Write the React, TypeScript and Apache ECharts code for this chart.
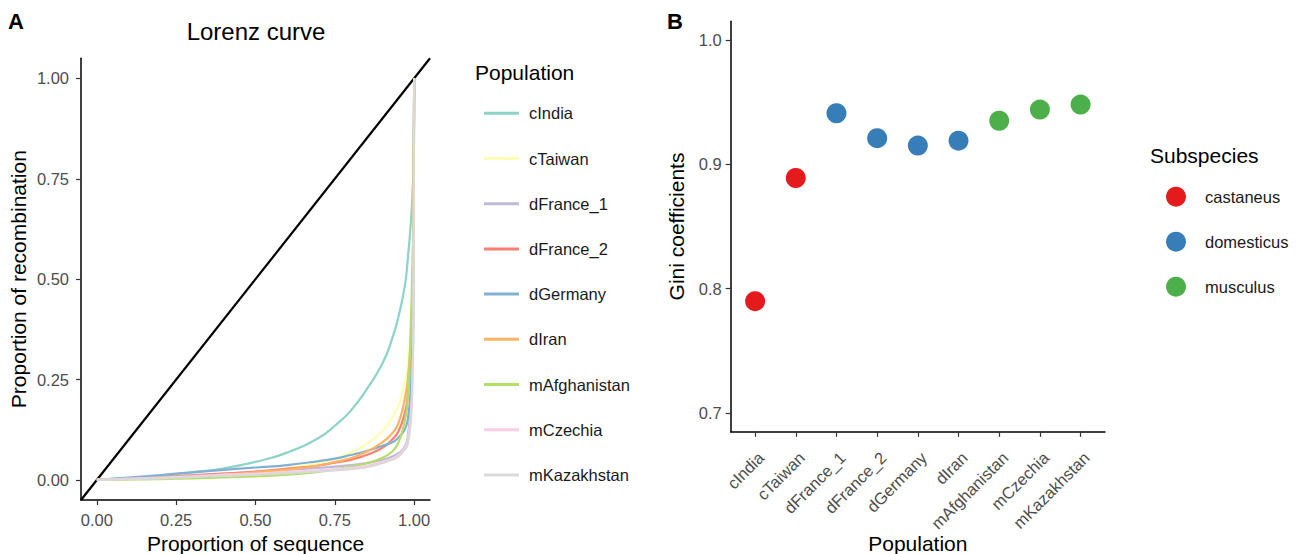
import React, { useEffect, useRef } from "react";
import * as echarts from "echarts";

const populations = ["cIndia", "cTaiwan", "dFrance_1", "dFrance_2", "dGermany", "dIran", "mAfghanistan", "mCzechia", "mKazakhstan"];
const populationColors = ["#8DD3C7", "#FFFFB3", "#BEBADA", "#FB8072", "#80B1D3", "#FDB462", "#B3DE69", "#FCCDE5", "#D9D9D9"];

const lorenzX = [0, 0.1, 0.2, 0.3, 0.4, 0.5, 0.6, 0.7, 0.75, 0.8, 0.85, 0.9, 0.93, 0.95, 0.97, 0.98, 0.99, 0.995, 0.998, 1];
const lorenzCIndia = [0, 0.005, 0.011, 0.019, 0.029, 0.045, 0.068, 0.105, 0.135, 0.172, 0.225, 0.29, 0.35, 0.405, 0.48, 0.55, 0.645, 0.72, 0.79, 1];
const lorenzCTaiwan = [0, 0.002, 0.005, 0.009, 0.014, 0.02, 0.029, 0.042, 0.053, 0.068, 0.09, 0.122, 0.155, 0.185, 0.24, 0.29, 0.38, 0.47, 0.58, 1];
const lorenzDFrance1 = [0, 0.004, 0.008, 0.012, 0.016, 0.02, 0.025, 0.03, 0.033, 0.037, 0.042, 0.05, 0.058, 0.066, 0.082, 0.11, 0.19, 0.3, 0.45, 1];
const lorenzDFrance2 = [0, 0.003, 0.007, 0.011, 0.016, 0.021, 0.028, 0.036, 0.043, 0.05, 0.062, 0.08, 0.1, 0.12, 0.165, 0.21, 0.33, 0.45, 0.58, 1];
const lorenzDGermany = [0, 0.006, 0.012, 0.019, 0.025, 0.031, 0.037, 0.047, 0.053, 0.062, 0.072, 0.085, 0.093, 0.105, 0.125, 0.15, 0.24, 0.35, 0.48, 1];
const lorenzDIran = [0, 0.002, 0.005, 0.009, 0.013, 0.019, 0.026, 0.036, 0.045, 0.054, 0.07, 0.094, 0.115, 0.14, 0.2, 0.25, 0.36, 0.48, 0.6, 1];
const lorenzMAfghanistan = [0, 0.001, 0.002, 0.004, 0.006, 0.009, 0.013, 0.02, 0.027, 0.033, 0.041, 0.055, 0.07, 0.092, 0.145, 0.2, 0.4, 0.55, 0.65, 1];
const lorenzMCzechia = [0, 0.003, 0.006, 0.009, 0.013, 0.016, 0.02, 0.024, 0.027, 0.03, 0.035, 0.045, 0.053, 0.062, 0.078, 0.1, 0.17, 0.28, 0.42, 1];
const lorenzMKazakhstan = [0, 0.002, 0.004, 0.007, 0.01, 0.013, 0.017, 0.021, 0.024, 0.027, 0.032, 0.042, 0.05, 0.058, 0.075, 0.09, 0.15, 0.25, 0.4, 1];
const lorenzCurves = [lorenzCIndia, lorenzCTaiwan, lorenzDFrance1, lorenzDFrance2, lorenzDGermany, lorenzDIran, lorenzMAfghanistan, lorenzMCzechia, lorenzMKazakhstan];

const equalityLine = [[-0.05, -0.05], [1.05, 1.05]];
const lorenzTicks = [0, 0.25, 0.5, 0.75, 1];

const giniValues = [0.790, 0.889, 0.941, 0.921, 0.915, 0.919, 0.935, 0.944, 0.948];
const subspeciesOfPop = ["castaneus", "castaneus", "domesticus", "domesticus", "domesticus", "domesticus", "musculus", "musculus", "musculus"];
const subspecies = ["castaneus", "domesticus", "musculus"];
const subspeciesColors = ["#E41A1C", "#377EB8", "#4DAF4A"];
const giniTicks = [0.7, 0.8, 0.9, 1.0];
const popIndexTicks = [0, 1, 2, 3, 4, 5, 6, 7, 8];

const FONT = "'Liberation Sans', Arial, Helvetica, sans-serif";
const TICK_COLOR = "#4D4D4D";

export default function App() {
  const ref = useRef<HTMLDivElement>(null);
  useEffect(() => {
    if (!ref.current) return;
    const chart = echarts.init(ref.current, null, { renderer: "svg" });

    const axisCommon = {
      axisLine: { show: true, onZero: false, lineStyle: { color: "#000", width: 1.5 } },
      axisTick: { show: true, length: 5, lineStyle: { color: "#333", width: 1.2 } },
      splitLine: { show: false },
      nameTextStyle: { fontFamily: FONT, fontSize: 21, color: "#000" },
    };

    const lineSeries = populations.map((p, i) => ({
      name: p,
      type: "line",
      xAxisIndex: 0,
      yAxisIndex: 0,
      data: lorenzX.map((x, j) => [x, lorenzCurves[i][j]]),
      showSymbol: false,
      symbol: "none",
      smooth: true,
      color: populationColors[i],
      lineStyle: { color: populationColors[i], width: 2.2 },
      z: 3,
    }));

    const scatterSeries = subspecies.map((s, k) => ({
      name: s,
      type: "scatter",
      xAxisIndex: 1,
      yAxisIndex: 1,
      symbolSize: 20,
      color: subspeciesColors[k],
      itemStyle: { color: subspeciesColors[k], opacity: 1 },
      data: giniValues
        .map((g, i) => (subspeciesOfPop[i] === s ? [i, g] : null))
        .filter((d) => d !== null),
    }));

    const option: any = {
      animation: false,
      textStyle: { fontFamily: FONT },
      grid: [
        { left: 81, top: 58.3, width: 349, height: 441.7, containLabel: false, outerBoundsMode: "none" },
        { left: 730.7, top: 21.2, width: 374.3, height: 410.6, containLabel: false, outerBoundsMode: "none" },
      ],
      xAxis: [
        {
          ...axisCommon,
          type: "value",
          gridIndex: 0,
          min: -0.05,
          max: 1.05,
          name: "Proportion of sequence",
          nameLocation: "middle",
          nameGap: 30,
          axisTick: { ...axisCommon.axisTick, customValues: lorenzTicks },
          axisLabel: {
            customValues: lorenzTicks,
            formatter: (v: number) => v.toFixed(2),
            color: TICK_COLOR,
            fontSize: 16.5,
            fontFamily: FONT,
            margin: 11,
          },
        },
        {
          ...axisCommon,
          type: "value",
          gridIndex: 1,
          min: -0.6,
          max: 8.6,
          name: "Population",
          nameLocation: "middle",
          nameGap: 101,
          nameMoveOverlap: false,
          axisTick: { ...axisCommon.axisTick, customValues: popIndexTicks },
          axisLabel: {
            customValues: popIndexTicks,
            formatter: (v: number) => populations[Math.round(v)] ?? "",
            rotate: 45,
            align: "right",
            verticalAlign: "top",
            color: TICK_COLOR,
            fontSize: 16.5,
            fontFamily: FONT,
            margin: 17,
          },
        },
      ],
      yAxis: [
        {
          ...axisCommon,
          type: "value",
          gridIndex: 0,
          min: -0.05,
          max: 1.05,
          name: "Proportion of recombination",
          nameLocation: "middle",
          nameGap: 52,
          axisTick: { ...axisCommon.axisTick, customValues: lorenzTicks },
          axisLabel: {
            customValues: lorenzTicks,
            formatter: (v: number) => v.toFixed(2),
            color: TICK_COLOR,
            fontSize: 16.5,
            fontFamily: FONT,
            margin: 12,
          },
        },
        {
          ...axisCommon,
          type: "value",
          gridIndex: 1,
          min: 0.685,
          max: 1.015,
          name: "Gini coefficients",
          nameLocation: "middle",
          nameGap: 44,
          axisTick: { ...axisCommon.axisTick, customValues: giniTicks },
          axisLabel: {
            customValues: giniTicks,
            formatter: (v: number) => v.toFixed(1),
            color: TICK_COLOR,
            fontSize: 16.5,
            fontFamily: FONT,
            margin: 9,
          },
        },
      ],
      legend: [
        {
          data: populations,
          orient: "vertical",
          left: 479,
          top: 98.3,
          icon: "rect",
          itemWidth: 35,
          itemHeight: 3,
          itemGap: 25.2,
          selectedMode: false,
          textStyle: { fontFamily: FONT, fontSize: 16.5, color: "#1a1a1a", lineHeight: 20, padding: [0, 0, 0, 5] },
        },
        {
          data: subspecies,
          orient: "vertical",
          left: 1161,
          top: 181.7,
          icon: "circle",
          itemWidth: 20,
          itemHeight: 20,
          itemGap: 25,
          selectedMode: false,
          textStyle: { fontFamily: FONT, fontSize: 16.5, color: "#1a1a1a", lineHeight: 20, padding: [0, 0, 0, 14] },
        },
      ],
      graphic: [
        { type: "text", left: 8, top: 10, style: { text: "A", font: `bold 22px ${FONT}`, fill: "#000" } },
        { type: "text", left: 667, top: 10, style: { text: "B", font: `bold 22px ${FONT}`, fill: "#000" } },
        { type: "text", x: 256, y: 31, style: { text: "Lorenz curve", font: `24px ${FONT}`, fill: "#000", textAlign: "center", textVerticalAlign: "middle" } },
        { type: "text", x: 475, y: 72, style: { text: "Population", font: `21px ${FONT}`, fill: "#000", textAlign: "left", textVerticalAlign: "middle" } },
        { type: "text", x: 1150, y: 155, style: { text: "Subspecies", font: `21px ${FONT}`, fill: "#000", textAlign: "left", textVerticalAlign: "middle" } },
      ],
      series: [
        {
          name: "equality",
          type: "line",
          xAxisIndex: 0,
          yAxisIndex: 0,
          data: equalityLine,
          showSymbol: false,
          symbol: "none",
          color: "#000",
          lineStyle: { color: "#000", width: 2.2 },
          z: 2,
        },
        ...lineSeries,
        ...scatterSeries,
      ],
    };
    chart.setOption(option);
    return () => chart.dispose();
  }, []);
  return (
    <div
      ref={ref}
      style={{ position: "fixed", left: 0, top: 0, width: 1300, height: 554, background: "#fff" }}
    />
  );
}
